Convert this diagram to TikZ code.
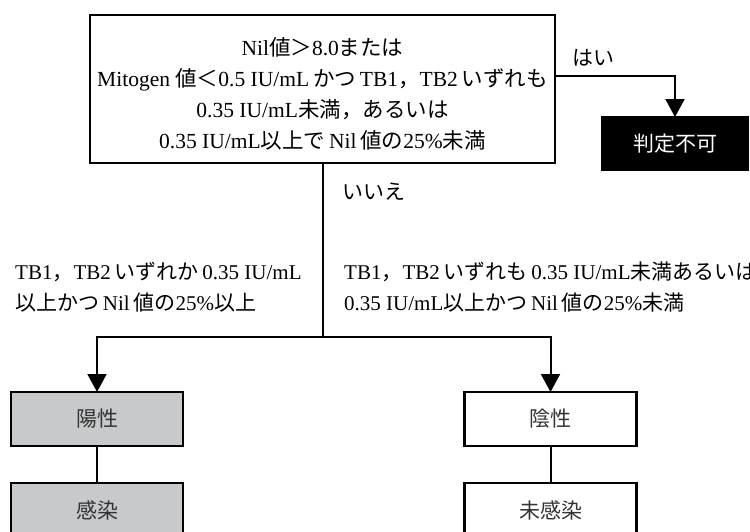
\documentclass[tikz,border=0pt]{standalone}
\usepackage{fontspec}
\setmainfont{Liberation Serif}
\newfontfamily\jp{Noto Sans CJK JP}
\newcommand{\J}[1]{{\jp #1}}
\newcommand{\jsp}{\hspace{0.18em}}
\usetikzlibrary{arrows.meta}
\definecolor{boxgray}{HTML}{C8C9CB}
\definecolor{txtgray}{HTML}{333333}
\tikzset{
  box/.style={draw, line width=2.2pt, rectangle, inner sep=0pt, outer sep=0pt, minimum width=172pt, minimum height=54pt, font=\jp\fontsize{21}{24}\selectfont, text=txtgray},
  conn/.style={line width=2pt},
  arr/.style={conn, -{Triangle[length=18pt,width=19pt]}},
  lbl/.style={inner sep=0pt, font=\fontsize{21}{31}\selectfont, align=left, anchor=west},
}
\begin{document}
\begin{tikzpicture}[x=1pt,y=-1pt]
\useasboundingbox (0,0) rectangle (750,531);
\clip (0,0) rectangle (750,531);
\node[draw, line width=2.2pt, inner sep=0pt, outer sep=0pt, minimum width=465pt, minimum height=148pt] (top) at (322.5,89) {};
\node[inner sep=0pt, align=center, font=\fontsize{21.5}{31}\selectfont] (toptext) at (322.5,94)
 {Nil\J{値＞}8.0\J{または}\\
  Mitogen \J{値＜}0.5 IU/mL\jsp\J{かつ}\jsp TB1\J{，}TB2\jsp\J{いずれも}\\
  0.35 IU/mL\J{未満，あるいは}\\
  0.35 IU/mL\J{以上で}\jsp Nil\jsp\J{値の}25\%\J{未満}};
\node[box, fill=black, text=white, minimum width=146pt, minimum height=53pt] (hantei) at (675,143.5) {判定不可};
\node[box, fill=boxgray] (pos) at (97,419) {陽性};
\node[box, fill=boxgray] (inf) at (97,510) {感染};
\node[box, fill=white] (neg) at (550.5,419) {陰性};
\node[box, fill=white] (noinf) at (550.5,510) {未感染};
\coordinate (split) at (323,337);
\node[lbl] (yes) at (572,58) {\J{はい}};
\node[lbl] (no) at (342,192) {\J{いいえ}};
\node[lbl] (lcond) at (15,287) {TB1\J{，}TB2\jsp\J{いずれか}\jsp 0.35 IU/mL\\\J{以上かつ}\jsp Nil\jsp\J{値の}25\%\J{以上}};
\node[lbl] (rcond) at (344,287) {TB1\J{，}TB2\jsp\J{いずれも}\jsp 0.35 IU/mL\J{未満あるいは}\\0.35 IU/mL\J{以上かつ}\jsp Nil\jsp\J{値の}25\%\J{未満}};
\draw[arr] ([yshift=13pt]top.east) -| (hantei.north);
\draw[conn] (top.south) -- (top.south |- split);
\draw[arr] (split) -| (pos.north);
\draw[arr] (split) -| (neg.north);
\draw[conn] (pos.south) -- (inf.north);
\draw[conn] (neg.south) -- (noinf.north);
\end{tikzpicture}
\end{document}
